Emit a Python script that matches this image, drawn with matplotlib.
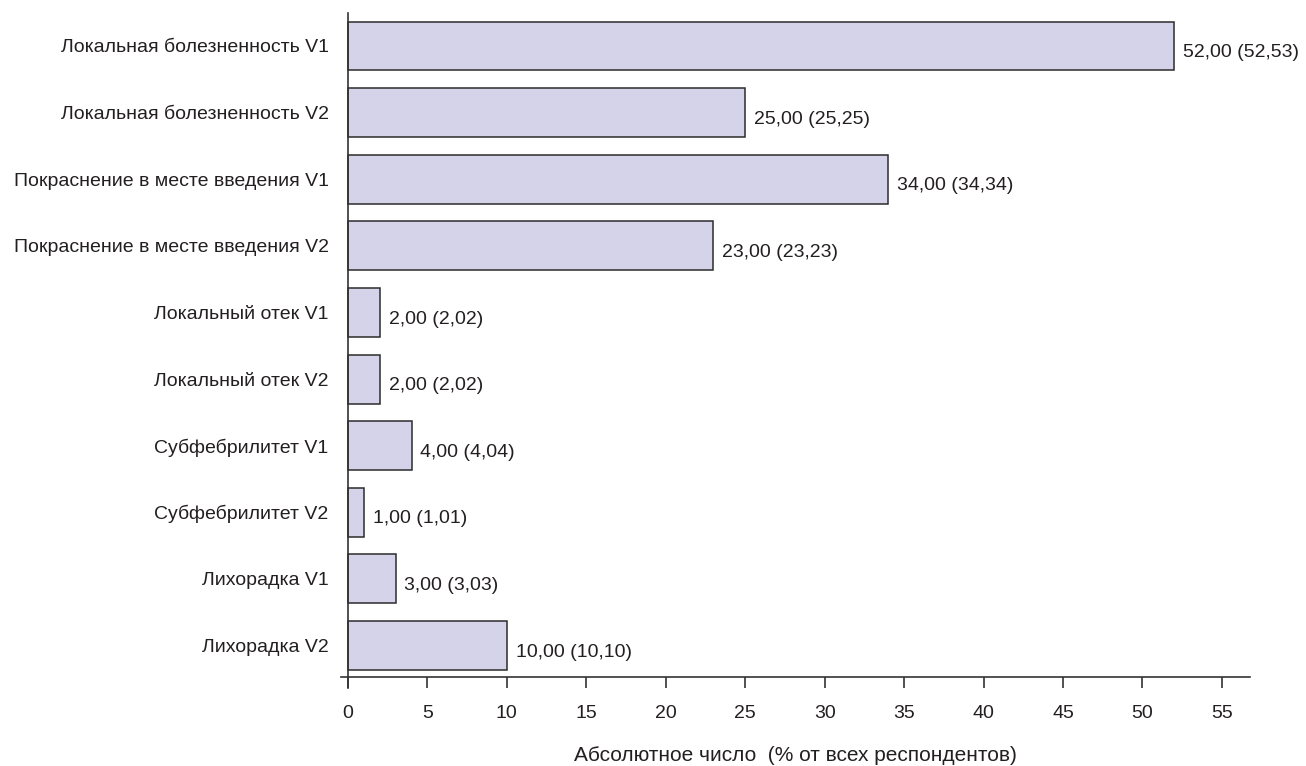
import numpy as np
import matplotlib
matplotlib.use("Agg")
import matplotlib.pyplot as plt

plt.rcParams['font.family'] = ['Liberation Sans', 'DejaVu Sans']
plt.rcParams['font.size'] = 14

# categories top to bottom
categories = [
    "Локальная болезненность V1",
    "Локальная болезненность V2",
    "Покраснение в месте введения V1",
    "Покраснение в месте введения V2",
    "Локальный отек V1",
    "Локальный отек V2",
    "Субфебрилитет V1",
    "Субфебрилитет V2",
    "Лихорадка V1",
    "Лихорадка V2",
]
counts = [52, 25, 34, 23, 2, 2, 4, 1, 3, 10]
percents = [52.53, 25.25, 34.34, 23.23, 2.02, 2.02, 4.04, 1.01, 3.03, 10.10]
xticks = [0, 5, 10, 15, 20, 25, 30, 35, 40, 45, 50, 55]

text_col = '#231f20'
bar_col = '#d5d3e9'
edge_col = '#2b2b2b'

fig = plt.figure(figsize=(13.06, 7.66), dpi=100)
ax = fig.add_axes([0.2611, 0.1018, 0.6960, 0.8812])

ax.tick_params(axis='y', length=0, pad=14, labelsize=14, labelcolor=text_col)
ax.tick_params(axis='x', length=8, width=1.2, color='#333333', pad=12,
               labelsize=14, labelcolor=text_col)

y = np.arange(len(categories))
ax.barh(y, counts, height=0.735, color=bar_col, edgecolor=edge_col, linewidth=1.1)

# value labels: "count (percent)" with decimal comma
for yi, c, p in zip(y, counts, percents):
    lab = f"{c:.2f} ({p:.2f})".replace('.', ',')
    ax.text(c + 0.55, yi + 0.1, lab, va='center', ha='left', fontsize=14, color=text_col)

ax.set_ylim(9.638, -0.495)
ax.set_xlim(-0.44, 56.77)
ax.set_yticks(y)
ax.set_yticklabels(categories)
ax.set_xticks(xticks)
ax.set_xticklabels([str(t) for t in xticks])

ax.spines['top'].set_visible(False)
ax.spines['right'].set_visible(False)
ax.spines['left'].set_position(('data', 0))
ax.spines['bottom'].set_position(('outward', -8))
for s in ['left', 'bottom']:
    ax.spines[s].set_color('#333333')
    ax.spines[s].set_linewidth(1.2)

ax.set_xlabel("Абсолютное число  (% от всех респондентов)", fontsize=15,
              color=text_col, va='center')
ax.xaxis.set_label_coords(0.5, -0.0993)

fig.savefig("out.png", dpi=100)
